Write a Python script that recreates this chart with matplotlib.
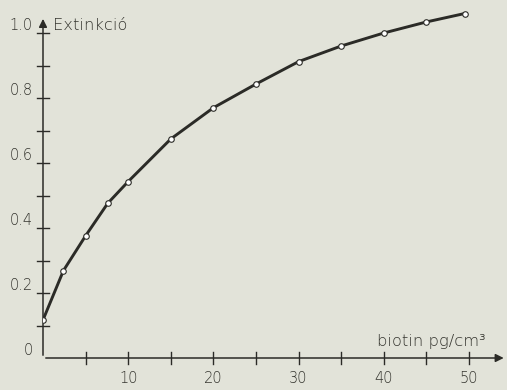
import matplotlib
matplotlib.use("Agg")
import matplotlib.pyplot as plt

# data
biotin = [0, 2.4, 5, 7.6, 10, 15, 20, 25, 30, 35, 40, 45, 49.5]
extinction = [0.117, 0.269, 0.376, 0.476, 0.543, 0.674, 0.770, 0.843, 0.912, 0.960, 1.000, 1.034, 1.060]

x_ticks = [5, 10, 15, 20, 25, 30, 35, 40, 45, 50]
x_labels = [10, 20, 30, 40, 50]
y_ticks = [0.1, 0.2, 0.3, 0.4, 0.5, 0.6, 0.7, 0.8, 0.9, 1.0]
y_labels = [(0, "0"), (0.2, "0.2"), (0.4, "0.4"), (0.6, "0.6"), (0.8, "0.8"), (1.0, "1.0")]

bg = "#e2e3d9"
ink = "#2b2b27"
txt = "#35352f"
font = dict(family=["DejaVu Sans"], fontweight="ultralight", color=txt, fontsize=10.5)
font_lab = dict(font, fontsize=11.8)

W, H = 507, 390
fig = plt.figure(figsize=(W / 100, H / 100), dpi=100, facecolor=bg)
ax = fig.add_axes([43 / W, (H - 358) / H, (W - 43) / W, 358 / H])
ax.set_facecolor(bg)
ax.set_xlim(0, (W - 43) / 8.52)
ax.set_ylim(0, 358 / 325)
for s in ax.spines.values():
    s.set_visible(False)
ax.set_xticks([])
ax.set_yticks([])

# axes with arrows
ax.annotate("", xy=(54.4, 0), xytext=(0, 0),
            arrowprops=dict(arrowstyle="-|>", color=ink, lw=1.1, mutation_scale=12),
            annotation_clip=False)
ax.annotate("", xy=(0, 1.052), xytext=(0, 0),
            arrowprops=dict(arrowstyle="-|>", color=ink, lw=1.1, mutation_scale=12),
            annotation_clip=False)

# cross ticks
tl = 6 / 325
for xt in x_ticks:
    ax.plot([xt, xt], [-tl, tl], color=ink, lw=1.0, clip_on=False)
tx = 6 / 8.52
for yt in y_ticks:
    ax.plot([-tx, tx], [yt, yt], color=ink, lw=1.0, clip_on=False)

# tick labels
for v in x_labels:
    ax.annotate(str(v), xy=(v, 0), xytext=(0, -14.5), textcoords="offset points",
                ha="center", va="center", annotation_clip=False, **font)
for v, lab in y_labels:
    ax.annotate(lab, xy=(0, v), xytext=(-7.5, 5.5), textcoords="offset points",
                ha="right", va="center", annotation_clip=False, **font)

ax.annotate("Extinkció", xy=(0, 1.0), xytext=(7, 5.5), textcoords="offset points",
            ha="left", va="center", annotation_clip=False, **font_lab)
ax.annotate("biotin pg/cm³", xy=(52.0, 0), xytext=(0, 12), textcoords="offset points",
            ha="right", va="center", annotation_clip=False, **font_lab)

# curve
ax.plot(biotin, extinction, color=ink, lw=2.1, solid_capstyle="round", zorder=3)
ax.plot(biotin, extinction, linestyle="none", marker="o", markersize=4.0,
        markerfacecolor="white", markeredgecolor=ink, markeredgewidth=0.8, zorder=4)

fig.savefig("out.png", dpi=100, facecolor=bg)
